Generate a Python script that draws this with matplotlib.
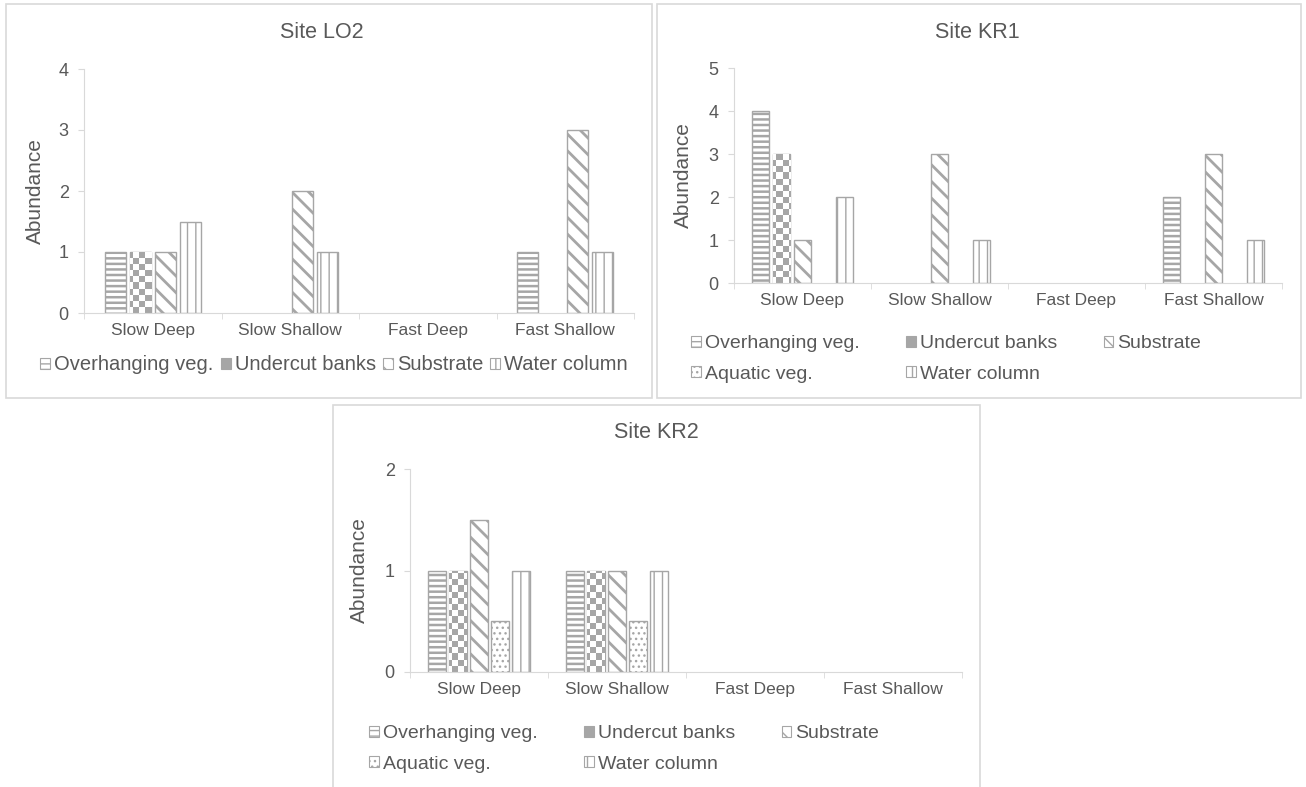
import numpy as np
import matplotlib
matplotlib.use('Agg')
import matplotlib.pyplot as plt
from matplotlib.patches import Rectangle, Patch
from matplotlib.colors import ListedColormap

# data
categories = ['Slow Deep', 'Slow Shallow', 'Fast Deep', 'Fast Shallow']

lo2_overhanging = [1, 0, 0, 1]
lo2_undercut = [1, 0, 0, 0]
lo2_substrate = [1, 2, 0, 3]
lo2_water = [1.5, 1, 0, 1]

kr1_overhanging = [4, 0, 0, 2]
kr1_undercut = [3, 0, 0, 0]
kr1_substrate = [1, 3, 0, 3]
kr1_aquatic = [0, 0, 0, 0]
kr1_water = [2, 1, 0, 1]

kr2_overhanging = [1, 1, 0, 0]
kr2_undercut = [1, 1, 0, 0]
kr2_substrate = [1.5, 1, 0, 0]
kr2_aquatic = [0.5, 0.5, 0, 0]
kr2_water = [1, 1, 0, 0]

plt.rcParams['font.family'] = ['Liberation Sans', 'DejaVu Sans']

W, H = 1306, 787
GRAY = '#a6a6a6'
TXT = '#595959'
LINE = '#d9d9d9'

# hatch style for each series: (hatch, hatch linewidth)
styles = {
    'Overhanging veg.': ('---', 1.8),
    'Undercut banks': (None, 1.0),   # checkerboard drawn separately
    'Substrate': ('\\\\', 2.0),
    'Aquatic veg.': ('...', 1.0),
    'Water column': ('||', 1.0),
}

fig = plt.figure(figsize=(W / 100, H / 100), dpi=100)


def rect(left, top, right, bottom):
    return [left / W, 1 - bottom / H, (right - left) / W, (bottom - top) / H]


def checker(ax, bars, cell=6):
    bb = ax.get_position()
    nx = int(bb.width * W / cell)
    ny = int(bb.height * H / cell)
    arr = (np.add.outer(np.arange(ny), np.arange(nx)) % 2).astype(float)
    cmap = ListedColormap(['white', GRAY])
    for b in bars:
        if b.get_height() == 0:
            continue
        im = ax.imshow(arr, extent=(0, 1, 0, 1), transform=ax.transAxes,
                       cmap=cmap, interpolation='nearest', aspect='auto', zorder=2.1)
        im.set_clip_path(b)


def panel(box, title, title_xy, series, ymax, width, step, legend_xy, ncol, colsp, lfs):
    ax = fig.add_axes(rect(*box))
    x = np.arange(len(categories))
    n = len(series)
    handles = {}
    for i, (name, vals) in enumerate(series):
        hatch, hlw = styles[name]
        lws = [1.0 if v > 0 else 0 for v in vals]
        with plt.rc_context({'hatch.linewidth': hlw, 'hatch.color': GRAY}):
            bars = ax.bar(x + (i - (n - 1) / 2) * step, vals, width, color='white',
                          edgecolor=GRAY, hatch=hatch, linewidth=lws, zorder=2)
        if name == 'Undercut banks':
            checker(ax, bars)
        with plt.rc_context({'hatch.linewidth': 0.8, 'hatch.color': GRAY}):
            handles[name] = Patch(facecolor='white' if hatch else GRAY, edgecolor=GRAY,
                                  hatch=hatch if hatch else None, linewidth=0.8)
    ax.set_xlim(-0.5, len(categories) - 0.5)
    ax.set_ylim(0, ymax)
    ax.set_yticks(range(ymax + 1))
    ax.set_xticks(x)
    ax.set_xticklabels(categories)
    ax.set_xticks(np.arange(-0.5, len(categories)), minor=True)
    for s in ['top', 'right']:
        ax.spines[s].set_visible(False)
    for s in ['left', 'bottom']:
        ax.spines[s].set_color(LINE)
    ax.tick_params(axis='x', which='major', length=0, pad=7, labelsize=12.5, labelcolor=TXT)
    ax.tick_params(axis='x', which='minor', length=4, color=LINE)
    ax.tick_params(axis='y', length=4, color=LINE, pad=7, labelsize=13, labelcolor=TXT)
    ax.set_ylabel('Abundance', fontsize=15, color=TXT)
    fig.text(title_xy[0] / W, 1 - title_xy[1] / H, title, fontsize=15.5, color=TXT,
             ha='center', va='center')
    order = [name for name, _ in series]
    if ncol == 3:
        order = ['Overhanging veg.', 'Aquatic veg.', 'Undercut banks', 'Water column', 'Substrate']
    fig.legend([handles[k] for k in order], order, loc='center',
               bbox_to_anchor=(legend_xy[0] / W, 1 - legend_xy[1] / H),
               ncol=ncol, frameon=False, fontsize=lfs, labelcolor=TXT,
               handlelength=0.5, handleheight=0.5, handletextpad=0.2,
               columnspacing=colsp, labelspacing=0.7, borderpad=0)
    return ax


ax1 = panel((84, 69, 634, 313), 'Site LO2', (322, 32),
            [('Overhanging veg.', lo2_overhanging), ('Undercut banks', lo2_undercut),
             ('Substrate', lo2_substrate), ('Water column', lo2_water)],
            4, 0.153, 0.182, (334, 365), 4, 0.35, 14.5)
ax1.yaxis.set_label_coords((45 - 84) / 550, 0.5)

ax2 = panel((734, 68, 1282, 283), 'Site KR1', (977, 32),
            [('Overhanging veg.', kr1_overhanging), ('Undercut banks', kr1_undercut),
             ('Substrate', kr1_substrate), ('Aquatic veg.', kr1_aquatic),
             ('Water column', kr1_water)],
            5, 0.128, 0.153, (946, 359), 3, 2.4, 14)
ax2.yaxis.set_label_coords((693 - 734) / 548, 0.5)

ax3 = panel((410, 469, 962, 672), 'Site KR2', (656, 433),
            [('Overhanging veg.', kr2_overhanging), ('Undercut banks', kr2_undercut),
             ('Substrate', kr2_substrate), ('Aquatic veg.', kr2_aquatic),
             ('Water column', kr2_water)],
            2, 0.127, 0.152, (624, 749), 3, 2.4, 14)
ax3.yaxis.set_label_coords((369 - 410) / 552, 0.5)

# chart area borders
for l, t, r, b in [(6, 4, 652, 398), (657, 4, 1301, 398), (333, 405, 980, 800)]:
    fig.patches.append(Rectangle((l / W, 1 - b / H), (r - l) / W, (b - t) / H,
                                 transform=fig.transFigure, fill=False,
                                 edgecolor=LINE, linewidth=1.2))

fig.savefig('out.png', dpi=100)
